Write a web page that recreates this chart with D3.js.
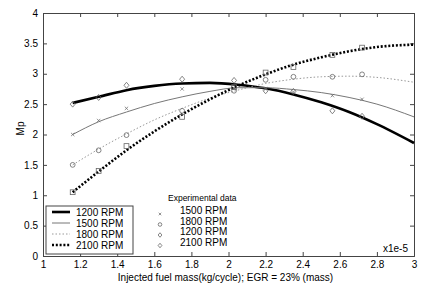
<!DOCTYPE html>
<html>
<head>
<meta charset="utf-8">
<script src="https://cdn.jsdelivr.net/npm/d3@7"></script>
<style>
  body { margin: 0; background: #fff; }
  text { font-family: "Liberation Sans", Arial, sans-serif; fill: #000; }
</style>
</head>
<body>
<div id="chart"></div>
<script>
// fitted curves (x in 1e-5 kg/cycle)
var curveX = [1.16, 1.3, 1.45, 1.6, 1.75, 1.9, 2.05, 2.2, 2.35, 2.5, 2.65, 2.8, 3.0];
var fit1200 = [2.52, 2.62, 2.73, 2.80, 2.84, 2.85, 2.82, 2.76, 2.66, 2.53, 2.37, 2.17, 1.86];
var fit1500 = [2.00, 2.21, 2.37, 2.51, 2.62, 2.71, 2.77, 2.77, 2.74, 2.69, 2.61, 2.50, 2.29];
var fit1800 = [1.50, 1.76, 2.01, 2.24, 2.43, 2.60, 2.73, 2.84, 2.91, 2.95, 2.96, 2.94, 2.86];
var fit2100 = [1.05, 1.39, 1.74, 2.05, 2.33, 2.58, 2.80, 2.99, 3.15, 3.27, 3.37, 3.44, 3.48];

// experimental points
var expX = [1.16, 1.30, 1.45, 1.75, 2.03, 2.20, 2.35, 2.56, 2.72];
var exp1200 = [2.50, 2.61, 2.81, 2.91, 2.89, 2.72, 2.71, 2.39, 2.30];
var exp1500 = [2.00, 2.23, 2.43, 2.75, 2.76, 2.75, 2.70, 2.64, 2.58];
var exp1800 = [1.50, 1.74, 1.99, 2.39, 2.72, 2.90, 2.95, 2.95, 2.99];
var exp2100 = [1.05, 1.40, 1.81, 2.29, 2.78, 3.02, 3.11, 3.31, 3.43];

var xTicks = [1, 1.2, 1.4, 1.6, 1.8, 2, 2.2, 2.4, 2.6, 2.8, 3];
var yTicks = [0, 0.5, 1, 1.5, 2, 2.5, 3, 3.5, 4];

var svgWidth = 429;
var svgHeight = 293;
var margin = { top: 13, right: 15, bottom: 37, left: 43 };
var width = svgWidth - margin.left - margin.right;
var height = svgHeight - margin.top - margin.bottom;

var svg = d3.select("#chart")
  .append("svg")
  .attr("width", svgWidth)
  .attr("height", svgHeight);

var chartGroup = svg.append("g")
  .attr("transform", `translate(${margin.left}, ${margin.top})`);

var x = d3.scaleLinear().domain([1, 3]).range([0, width]);
var y = d3.scaleLinear().domain([0, 4]).range([height, 0]);

var axisColor = "#444";

// axes, matlab style ticks inside on all four sides
var fmt = d3.format("~g");
var bottomAxis = chartGroup.append("g")
  .attr("transform", `translate(0, ${height})`)
  .call(d3.axisBottom(x).tickValues(xTicks).tickSize(-4).tickPadding(5).tickFormat(fmt));
var topAxis = chartGroup.append("g")
  .call(d3.axisTop(x).tickValues(xTicks).tickSize(-4).tickFormat(""));
var leftAxis = chartGroup.append("g")
  .call(d3.axisLeft(y).tickValues(yTicks).tickSize(-4).tickPadding(5).tickFormat(fmt));
var rightAxis = chartGroup.append("g")
  .attr("transform", `translate(${width}, 0)`)
  .call(d3.axisRight(y).tickValues(yTicks).tickSize(-4).tickFormat(""));

[bottomAxis, topAxis, leftAxis, rightAxis].forEach(function(g) {
  g.select(".domain").attr("stroke", axisColor);
  g.selectAll(".tick line").attr("stroke", axisColor);
  g.selectAll(".tick text").attr("font-size", "10px").attr("fill", "#000")
    .attr("font-family", "Liberation Sans, Arial, sans-serif");
});

// fitted lines
var series = [
  { name: "1200 RPM", vals: fit1200, color: "#000", w: 2.6, dash: null },
  { name: "1500 RPM", vals: fit1500, color: "#777", w: 1, dash: null },
  { name: "1800 RPM", vals: fit1800, color: "#999", w: 1, dash: "1.5,2" },
  { name: "2100 RPM", vals: fit2100, color: "#000", w: 2.6, dash: "2,1.8" }
];

var line = d3.line()
  .x(d => x(d[0]))
  .y(d => y(d[1]))
  .curve(d3.curveMonotoneX);

series.forEach(function(s) {
  chartGroup.append("path")
    .datum(curveX.map((cx, i) => [cx, s.vals[i]]))
    .attr("d", line)
    .attr("fill", "none")
    .attr("stroke", s.color)
    .attr("stroke-width", s.w)
    .attr("stroke-dasharray", s.dash);
});

// markers
var mColor = "#666";
function drawMarker(g, type, cx, cy, k) {
  k = k || 1;
  if (type === "x") {
    g.append("path")
      .attr("d", `M${cx - 1.7 * k},${cy - 1.7 * k}L${cx + 1.7 * k},${cy + 1.7 * k}M${cx - 1.7 * k},${cy + 1.7 * k}L${cx + 1.7 * k},${cy - 1.7 * k}`)
      .attr("stroke", mColor).attr("stroke-width", 0.7);
  } else if (type === "o") {
    g.append("circle").attr("cx", cx).attr("cy", cy).attr("r", 2.4 * k)
      .attr("fill", "none").attr("stroke", mColor).attr("stroke-width", 0.8);
  } else if (type === "d") {
    g.append("path")
      .attr("d", `M${cx},${cy - 3 * k}L${cx + 2.5 * k},${cy}L${cx},${cy + 3 * k}L${cx - 2.5 * k},${cy}Z`)
      .attr("fill", "none").attr("stroke", mColor).attr("stroke-width", 0.8);
  } else if (type === "s") {
    g.append("rect").attr("x", cx - 2.4 * k).attr("y", cy - 2.4 * k)
      .attr("width", 4.8 * k).attr("height", 4.8 * k)
      .attr("fill", "none").attr("stroke", mColor).attr("stroke-width", 0.8);
  }
}

var expSeries = [
  { vals: exp1200, type: "d" },
  { vals: exp1500, type: "x" },
  { vals: exp1800, type: "o" },
  { vals: exp2100, type: "s" }
];
expSeries.forEach(function(s) {
  s.vals.forEach(function(v, i) {
    drawMarker(chartGroup, s.type, x(expX[i]), y(v));
  });
});

// legend box for fitted lines
var legend = chartGroup.append("g").attr("transform", "translate(3, 193)");
legend.append("rect")
  .attr("width", 87).attr("height", 48)
  .attr("fill", "#fff").attr("stroke", axisColor).attr("stroke-width", 1);
series.forEach(function(s, i) {
  var ly = 6 + i * 11;
  legend.append("line")
    .attr("x1", 6).attr("x2", 24).attr("y1", ly).attr("y2", ly)
    .attr("stroke", s.color).attr("stroke-width", s.w).attr("stroke-dasharray", s.dash);
  legend.append("text")
    .attr("x", 30).attr("y", ly + 3.5)
    .attr("font-size", "10px")
    .text(s.name);
});

// experimental data legend
var expLegend = chartGroup.append("g").attr("transform", "translate(125, 188)");
expLegend.append("text")
  .attr("x", 0).attr("y", 0)
  .attr("font-size", "8.5px")
  .text("Experimental data");
var expNames = ["1500 RPM", "1800 RPM", "1200 RPM", "2100 RPM"];
var expTypes = ["x", "o", "d", "d"];
expNames.forEach(function(n, i) {
  var ly = 12 + i * 10.5;
  drawMarker(expLegend, expTypes[i], -8, ly + 1, 0.75);
  expLegend.append("text")
    .attr("x", 12).attr("y", ly + 1)
    .attr("font-size", "10px")
    .text(n);
});

// exponent label
chartGroup.append("text")
  .attr("x", width - 6).attr("y", height - 4)
  .attr("text-anchor", "end")
  .attr("font-size", "10px")
  .text("x1e-5");

// axis labels
chartGroup.append("text")
  .attr("transform", "rotate(-90)")
  .attr("x", -height / 2 + 6)
  .attr("y", -margin.left + 24)
  .attr("text-anchor", "middle")
  .attr("font-size", "10px")
  .text("Mp");

chartGroup.append("text")
  .attr("x", width / 2 - 3)
  .attr("y", height + 25)
  .attr("text-anchor", "middle")
  .attr("font-size", "10px")
  .text("Injected fuel mass(kg/cycle); EGR = 23% (mass)");
</script>
</body>
</html>
